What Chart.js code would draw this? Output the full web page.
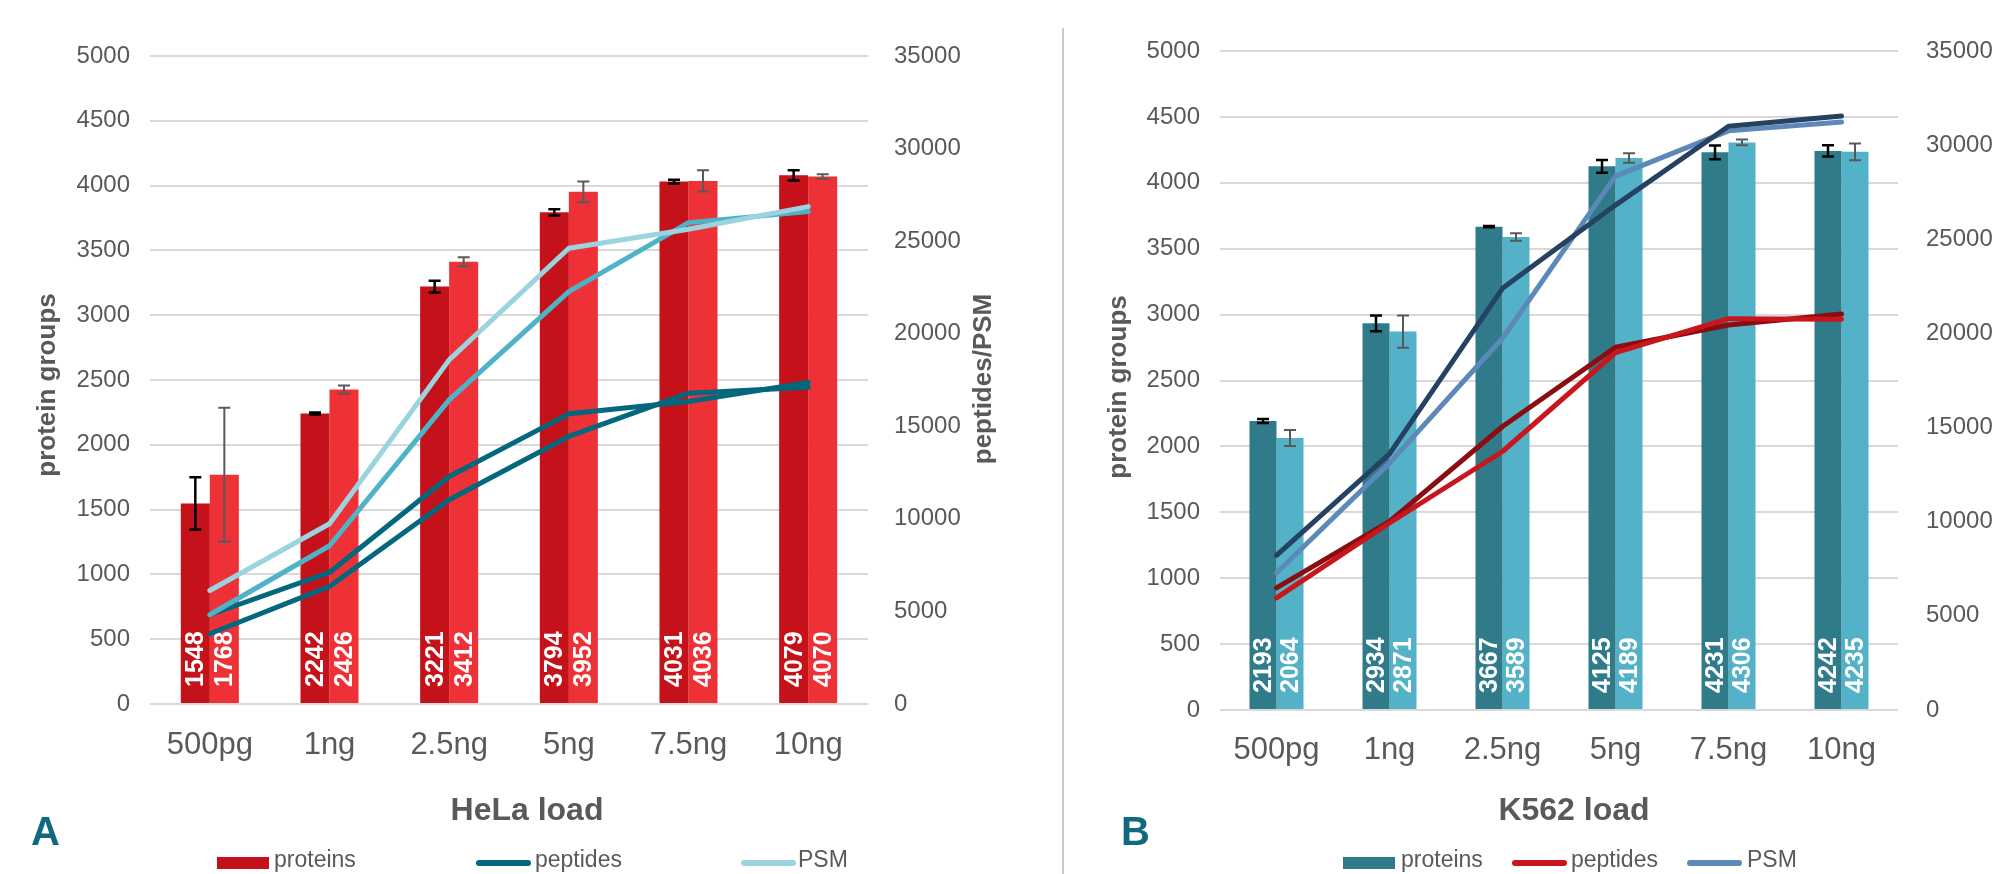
<!DOCTYPE html>
<html>
<head>
<meta charset="utf-8">
<script src="https://cdn.jsdelivr.net/npm/chart.js@4.4.1/dist/chart.umd.min.js"></script>
<style>
    body { margin: 0; background: #fff; }
    #wrap { position: relative; width: 1997px; height: 874px; overflow: hidden; }
    canvas { position: absolute; top: 0; }
    #chart_a { left: 0; }
    #chart_b { left: 1064px; }
    #divider { position: absolute; left: 1062px; top: 28px; width: 2px; height: 846px; background: #c8c8c8; }
</style>
</head>
<body>
<div id="wrap">
    <canvas id="chart_a" width="1062" height="874"></canvas>
    <div id="divider"></div>
    <canvas id="chart_b" width="933" height="874"></canvas>
</div>
<script>
const loads = ["500pg", "1ng", "2.5ng", "5ng", "7.5ng", "10ng"];

// HeLa: protein groups (two replicates, +/- sd) and peptide / PSM counts
const hela_proteins_1 = [1548, 2242, 3221, 3794, 4031, 4079];
const hela_proteins_2 = [1768, 2426, 3412, 3952, 4036, 4070];
const hela_proteins_sd_1 = [201, 8, 45, 24, 15, 40];
const hela_proteins_sd_2 = [517, 32, 35, 80, 82, 17];
const hela_peptides_1 = [4821, 7105, 12288, 15672, 16337, 17362];
const hela_peptides_2 = [3795, 6350, 11030, 14450, 16790, 17114];
const hela_psm_1 = [6133, 9734, 18588, 24618, 25644, 26864];
const hela_psm_2 = [4821, 8546, 16428, 22276, 26000, 26594];

// K562
const k562_proteins_1 = [2193, 2934, 3667, 4125, 4231, 4242];
const k562_proteins_2 = [2064, 2871, 3589, 4189, 4306, 4235];
const k562_proteins_sd_1 = [15, 60, 5, 48, 52, 42];
const k562_proteins_sd_2 = [61, 123, 28, 36, 22, 64];
const k562_peptides_1 = [6482, 10016, 15055, 19267, 20450, 21033];
const k562_peptides_2 = [5952, 9930, 13729, 18980, 20784, 20752];
const k562_psm_1 = [8212, 13607, 22397, 26816, 31007, 31553];
const k562_psm_2 = [7278, 13113, 19744, 28354, 30758, 31235];

const FONT = "'Liberation Sans', Arial, sans-serif";
const GREY = "#595959";

// whiskers on the bar datasets
const error_bars = {
    id: "error_bars",
    afterDatasetDraw(chart, args) {
        const ds = chart.data.datasets[args.index];
        if (!ds.sd) return;
        const y = chart.scales.y;
        const ctx = chart.ctx;
        ctx.save();
        ctx.strokeStyle = ds.sdColor;
        ctx.lineWidth = ds.sdWidth;
        args.meta.data.forEach((bar, i) => {
            const top = y.getPixelForValue(ds.data[i] + ds.sd[i]);
            const bot = y.getPixelForValue(ds.data[i] - ds.sd[i]);
            ctx.beginPath();
            ctx.moveTo(bar.x, top);
            ctx.lineTo(bar.x, bot);
            ctx.moveTo(bar.x - 6, top);
            ctx.lineTo(bar.x + 6, top);
            ctx.moveTo(bar.x - 6, bot);
            ctx.lineTo(bar.x + 6, bot);
            ctx.stroke();
        });
        ctx.restore();
    }
};

// vertical value labels at the foot of each bar
const bar_labels = {
    id: "bar_labels",
    afterDatasetDraw(chart, args) {
        const ds = chart.data.datasets[args.index];
        if (!ds.sd) return;
        const base = chart.scales.y.getPixelForValue(0);
        const ctx = chart.ctx;
        ctx.save();
        ctx.fillStyle = "#fff";
        ctx.font = `bold 25px ${FONT}`;
        ctx.textAlign = "left";
        ctx.textBaseline = "middle";
        args.meta.data.forEach((bar, i) => {
            ctx.save();
            ctx.translate(bar.x, base - 17);
            ctx.rotate(-Math.PI / 2);
            ctx.fillText(String(ds.data[i]), 0, 1);
            ctx.restore();
        });
        ctx.restore();
    }
};

function decor(d) {
    return {
        id: "decor",
        afterDraw(chart) {
            const ctx = chart.ctx;
            ctx.save();
            ctx.fillStyle = GREY;
            ctx.font = `bold 26px ${FONT}`;
            ctx.textAlign = "center";
            ctx.textBaseline = "alphabetic";
            for (const t of d.y_titles) {
                ctx.save();
                ctx.translate(t.x, t.y);
                ctx.rotate(-Math.PI / 2);
                ctx.fillText(t.text, 0, 0);
                ctx.restore();
            }
            ctx.font = `bold 32px ${FONT}`;
            ctx.fillText(d.x_title, d.x_title_x, 820);

            ctx.fillStyle = "#0f6a80";
            ctx.font = `bold 40px ${FONT}`;
            ctx.textAlign = "left";
            ctx.fillText(d.letter, d.letter_x, 845);

            ctx.font = `23px ${FONT}`;
            for (const item of d.legend) {
                if (item.box) {
                    ctx.fillStyle = item.color;
                    ctx.fillRect(item.x, 857, 52, 12);
                } else {
                    ctx.strokeStyle = item.color;
                    ctx.lineWidth = 6;
                    ctx.lineCap = "round";
                    ctx.beginPath();
                    ctx.moveTo(item.x + 3, 863);
                    ctx.lineTo(item.x + 52, 863);
                    ctx.stroke();
                }
                ctx.fillStyle = GREY;
                ctx.fillText(item.text, item.text_x, 867);
            }
            ctx.restore();
        }
    };
}

function line_ds(data, color) {
    return {
        type: "line",
        data: data,
        borderColor: color,
        backgroundColor: color,
        borderWidth: 5,
        pointRadius: 0,
        tension: 0,
        borderCapStyle: "round",
        borderJoinStyle: "round",
        yAxisID: "y2",
        order: 0,
    };
}

function bar_ds(data, sd, color, sd_color, sd_width) {
    return {
        type: "bar",
        data: data,
        sd: sd,
        sdColor: sd_color,
        sdWidth: sd_width,
        backgroundColor: color,
        yAxisID: "y",
        order: 1,
    };
}

function make_chart(canvas_id, p) {
    const canvas = document.getElementById(canvas_id);
    return new Chart(canvas, {
        type: "bar",
        data: {
            labels: loads,
            datasets: p.datasets,
        },
        options: {
            responsive: false,
            animation: false,
            events: [],
            categoryPercentage: p.cat_pct,
            barPercentage: 1,
            layout: { padding: { top: p.top, left: 0, right: 0, bottom: 0 } },
            plugins: {
                legend: { display: false },
                tooltip: { enabled: false },
            },
            scales: {
                x: {
                    grid: { display: false },
                    border: { display: false },
                    ticks: {
                        color: GREY,
                        font: { family: FONT, size: 31 },
                        padding: p.x_pad,
                        maxRotation: 0,
                    },
                    afterFit: s => { s.height = 874 - p.bottom; },
                },
                y: {
                    position: "left",
                    min: 0,
                    max: 5000,
                    grid: { color: "#d9d9d9", lineWidth: 2, drawTicks: false },
                    border: { display: false },
                    ticks: {
                        stepSize: 500,
                        color: GREY,
                        font: { family: FONT, size: 24 },
                        padding: 20,
                        callback: v => String(v),
                    },
                    afterFit: s => { s.width = p.left; },
                },
                y2: {
                    position: "right",
                    min: 0,
                    max: 35000,
                    grid: { display: false, drawTicks: false },
                    border: { display: false },
                    ticks: {
                        stepSize: 5000,
                        color: GREY,
                        font: { family: FONT, size: 24 },
                        padding: p.right_pad,
                        callback: v => String(v),
                    },
                    afterFit: s => { s.width = canvas.width - p.right; },
                },
            },
        },
        plugins: [error_bars, bar_labels, decor(p.decor)],
    });
}

make_chart("chart_a", {
    top: 56, bottom: 704, left: 150, right: 868,
    cat_pct: 0.485, x_pad: 15, right_pad: 26,
    datasets: [
        line_ds(hela_psm_1, "#9bd3df"),
        line_ds(hela_psm_2, "#4fb3c8"),
        line_ds(hela_peptides_1, "#03677e"),
        line_ds(hela_peptides_2, "#03677e"),
        bar_ds(hela_proteins_1, hela_proteins_sd_1, "#c51119", "#000", 2.5),
        bar_ds(hela_proteins_2, hela_proteins_sd_2, "#ee3137", GREY, 2),
    ],
    decor: {
        y_titles: [
            { text: "protein groups", x: 55, y: 385 },
            { text: "peptides/PSM", x: 991, y: 379 },
        ],
        x_title: "HeLa load",
        x_title_x: 527,
        letter: "A",
        letter_x: 31,
        legend: [
            { box: true, color: "#c51119", x: 217, text: "proteins", text_x: 274 },
            { box: false, color: "#03677e", x: 476, text: "peptides", text_x: 535 },
            { box: false, color: "#9bd3df", x: 741, text: "PSM", text_x: 798 },
        ],
    },
});

make_chart("chart_b", {
    top: 51, bottom: 710, left: 156, right: 834,
    cat_pct: 0.478, x_pad: 14, right_pad: 28,
    datasets: [
        line_ds(k562_psm_1, "#264262"),
        line_ds(k562_psm_2, "#5c89b8"),
        line_ds(k562_peptides_2, "#c9151c"),
        line_ds(k562_peptides_1, "#8b0d12"),
        bar_ds(k562_proteins_1, k562_proteins_sd_1, "#2f7b8a", "#000", 2.5),
        bar_ds(k562_proteins_2, k562_proteins_sd_2, "#53b2c7", GREY, 2),
    ],
    decor: {
        y_titles: [
            { text: "protein groups", x: 62, y: 387 },
        ],
        x_title: "K562 load",
        x_title_x: 510,
        letter: "B",
        letter_x: 57,
        legend: [
            { box: true, color: "#2f7b8a", x: 279, text: "proteins", text_x: 337 },
            { box: false, color: "#c9151c", x: 448, text: "peptides", text_x: 507 },
            { box: false, color: "#5c89b8", x: 623, text: "PSM", text_x: 683 },
        ],
    },
});
</script>
</body>
</html>
